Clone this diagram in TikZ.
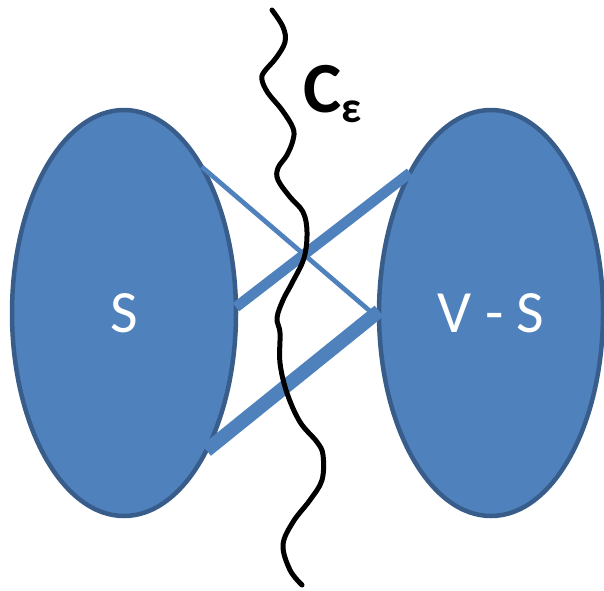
\documentclass[tikz,border=0pt]{standalone}
\usepackage{fontspec}
\setmainfont{Carlito}
\usetikzlibrary{shapes.geometric}
\definecolor{blfill}{HTML}{4F81BD}
\definecolor{blline}{HTML}{385D8A}
\tikzset{
  setnode/.style={ellipse, fill=blfill, draw=blline, line width=4.5pt,
    minimum width=224pt, minimum height=406pt, inner sep=0pt, outer sep=0pt,
    text=white, font=\fontsize{60}{60}\selectfont},
  edgethin/.style={draw=blfill, line width=4.7pt},
  edgemid/.style={draw=blfill, line width=10.5pt},
  edgethick/.style={draw=blfill, line width=14pt},
  cut/.style={draw=black, line width=5pt, line cap=round, line join=round}
}
\begin{document}
\begin{tikzpicture}[x=1pt,y=-1pt]
\useasboundingbox (0,0) rectangle (604,590);
\node[setnode] (L) at (124,313) {S};
\node[setnode] (R) at (491,313) {V - S};
\draw[edgethin] (L.62) -- (R.183);
\draw[edgemid] (L.3) -- (R.120);
\draw[edgethick] (L.-59) -- (R.179);
\draw[cut] plot[smooth, tension=0.6] coordinates {
(272,10) (283,27) (285,42) (276,58) (264,72) (262,80) (268,93) (282,110)
(293,128) (293,140) (287,155) (278,168) (278,180) (290,197) (303,212)
(307,232) (304,258) (292,283) (283,300) (277,318) (280,333) (280,363)
(287,393) (300,422) (317,442) (323,455) (322,480) (310,500) (293,522)
(283,545) (290,570) (302,585)};
\node[anchor=base west, inner sep=0pt] (C) at (303,112)
  {\bfseries\fontsize{72}{72}\selectfont C\raisebox{-10pt}{\fontsize{44}{44}\selectfont ε}};
\end{tikzpicture}
\end{document}
